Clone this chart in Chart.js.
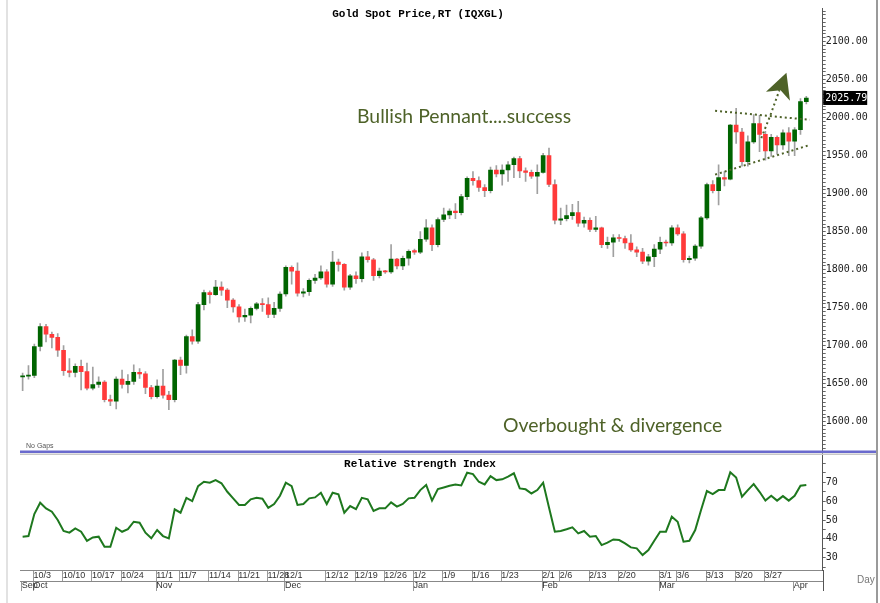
<!DOCTYPE html>
<html><head><meta charset="utf-8">
<script src="https://cdn.jsdelivr.net/npm/chart.js@4.4.0/dist/chart.umd.min.js"></script>
<style>html,body{margin:0;padding:0;background:#fff;}canvas{display:block;}</style>
</head><body>
<canvas id="c" width="880" height="603"></canvas>
<script>
const dates = ['9/29','9/30',
'10/3','10/4','10/5','10/6','10/7','10/10','10/11','10/12','10/13','10/14','10/17','10/18','10/19','10/20','10/21','10/24','10/25','10/26','10/27','10/28','10/31',
'11/1','11/2','11/3','11/4','11/7','11/8','11/9','11/10','11/11','11/14','11/15','11/16','11/17','11/18','11/21','11/22','11/23','11/24','11/25','11/28','11/29','11/30',
'12/1','12/2','12/5','12/6','12/7','12/8','12/9','12/12','12/13','12/14','12/15','12/16','12/19','12/20','12/21','12/22','12/23','12/26','12/27','12/28','12/29','12/30',
'1/2','1/3','1/4','1/5','1/6','1/9','1/10','1/11','1/12','1/13','1/16','1/17','1/18','1/19','1/20','1/23','1/24','1/25','1/26','1/27','1/30','1/31',
'2/1','2/2','2/3','2/6','2/7','2/8','2/9','2/10','2/13','2/14','2/15','2/16','2/17','2/20','2/21','2/22','2/23','2/24','2/27','2/28',
'3/1','3/2','3/3','3/6','3/7','3/8','3/9','3/10','3/13','3/14','3/15','3/16','3/17','3/20','3/21','3/22','3/23','3/24','3/27','3/28','3/29','3/30','3/31',
'4/3','4/4','4/5'];

const openP = [1659,1660,1661,1699,1725,1715,1711,1694,1667,1665,
1673,1666,1644,1649,1652,1629,1627,1656,1649,1653,
1665,1663,1645,1633,1647,1635,1629,1681,1674,1712,
1706,1754,1770,1767,1777,1773,1760,1751,1738,1740,
1749,1755,1754,1741,1749,1768,1803,1798,1769,1771,
1786,1789,1797,1781,1810,1807,1777,1792,1788,1817,
1813,1792,1798,1797,1814,1805,1815,1825,1823,1840,
1855,1833,1866,1872,1877,1875,1896,1920,1917,1908,
1904,1931,1926,1931,1938,1946,1930,1928,1923,1928,
1950,1912,1865,1867,1871,1875,1861,1865,1853,1855,
1833,1836,1842,1841,1835,1826,1823,1811,1817,1827,
1836,1835,1855,1847,1813,1815,1831,1868,1912,1904,
1921,1919,1990,1981,1942,1968,1992,1978,1956,1974,
1964,1980,1969,1984,2021];

const highP = [1664,1674,1702,1729,1728,1718,1716,1700,1683,1676,
1681,1677,1672,1659,1654,1635,1659,1668,1662,1675,
1670,1666,1648,1655,1669,1640,1682,1685,1714,1721,
1757,1773,1772,1786,1784,1775,1762,1754,1748,1751,
1757,1762,1763,1757,1771,1805,1805,1809,1775,1788,
1794,1805,1800,1824,1814,1808,1794,1797,1822,1824,
1815,1802,1799,1833,1815,1818,1826,1827,1850,1866,
1859,1868,1881,1880,1887,1899,1922,1929,1922,1912,
1935,1937,1938,1942,1948,1949,1934,1931,1938,1953,
1960,1918,1881,1885,1886,1890,1869,1868,1870,1856,
1843,1846,1846,1844,1846,1830,1828,1820,1833,1843,
1839,1858,1859,1850,1818,1833,1870,1914,1917,1938,
1929,1991,2012,1986,1976,2004,2003,1982,1978,1976,
1984,1987,1987,2025,2028];

const lowP = [1641,1656,1658,1693,1705,1697,1686,1661,1659,1659,
1642,1642,1642,1645,1626,1621,1617,1644,1638,1649,
1657,1637,1630,1631,1631,1616,1626,1662,1664,1702,
1703,1747,1756,1766,1766,1750,1744,1731,1732,1730,
1747,1745,1737,1737,1745,1765,1781,1765,1764,1766,
1782,1787,1777,1778,1798,1773,1774,1782,1784,1810,
1786,1789,1795,1795,1801,1800,1806,1820,1821,1837,
1825,1830,1863,1867,1867,1872,1892,1911,1903,1896,
1901,1922,1911,1916,1921,1921,1916,1920,1900,1927,
1909,1860,1859,1864,1866,1857,1856,1850,1850,1829,
1828,1817,1837,1828,1824,1817,1808,1806,1804,1821,
1831,1832,1845,1810,1809,1812,1828,1866,1901,1885,
1910,1918,1966,1936,1936,1966,1955,1944,1949,1952,
1958,1950,1950,1978,2018];

const closeP = [1660,1661,1699,1725,1715,1711,1694,1667,1665,1673,
1666,1644,1649,1652,1629,1627,1656,1649,1653,1665,
1663,1645,1633,1647,1635,1629,1681,1674,1712,1706,
1754,1770,1767,1777,1773,1760,1751,1738,1740,1749,
1755,1754,1741,1749,1768,1803,1798,1769,1771,1786,
1789,1797,1781,1810,1807,1777,1792,1788,1817,1813,
1792,1798,1797,1814,1805,1815,1824,1823,1840,1855,
1833,1866,1872,1877,1875,1896,1920,1917,1908,1904,
1931,1926,1931,1938,1946,1930,1928,1923,1928,1950,
1912,1865,1867,1871,1875,1861,1865,1853,1855,1833,
1836,1842,1841,1835,1826,1823,1811,1817,1827,1836,
1835,1855,1847,1813,1815,1831,1868,1912,1904,1921,
1919,1990,1981,1942,1968,1992,1978,1956,1974,1964,
1980,1969,1984,2021,2025.79];

const rsiValues = [41.2,41.5,53.2,59.2,56.2,54.4,50.0,44.2,43.3,45.6,
43.8,39.0,40.8,41.2,35.8,35.8,45.9,43.8,45.2,49.1,
48.6,43.3,40.3,44.7,41.5,40.3,55.7,53.9,61.8,60.1,
68.0,70.3,69.8,71.2,69.5,65.0,61.5,58.0,58.0,61.0,
61.8,61.3,56.5,58.5,62.9,69.8,68.0,58.0,58.5,61.5,
62.0,64.5,58.5,64.5,63.6,53.9,57.4,55.8,61.8,61.0,
54.8,56.2,56.2,59.4,57.1,58.5,61.5,61.8,65.9,68.6,
60.3,66.4,67.3,68.2,68.9,68.4,75.1,74.4,70.3,68.9,
73.3,71.2,71.6,73.0,74.8,66.8,66.3,64.1,65.9,69.8,
56.7,43.8,44.2,45.1,46.1,42.9,44.2,41.2,41.5,36.7,
38.0,39.7,39.4,37.6,35.5,35.0,31.4,34.1,39.0,43.8,
43.8,51.8,49.1,38.5,39.0,44.7,55.3,65.4,63.8,65.9,
65.9,75.3,72.6,62.4,65.9,69.1,65.0,60.3,62.9,60.3,
62.7,60.3,62.9,68.2,68.6];

const dayTickLabels = ['10/3','10/10','10/17','10/24','11/1','11/7','11/14','11/21','11/28','12/1','12/12','12/19','12/26','1/2','1/9','1/16','1/23','2/1','2/6','2/13','2/20','3/1','3/6','3/13','3/20','3/27'];
const monthTickLabels = ['Sep','Oct','Nov','Dec','Jan','Feb','Mar','Apr'];
const monthStartDates = ['9/29','10/3','11/1','12/1','1/2','2/1','3/1','4/3'];
const priceTickLabels = [1600,1650,1700,1750,1800,1850,1900,1950,2000,2050,2100];
const rsiTickLabels = [30,40,50,60,70];

const pennantUpper = [{x:118.4,y:2009},{x:134.6,y:1997}];
const pennantLower = [{x:118.4,y:1925},{x:134.6,y:1964}];
const breakoutPath = [{x:126.3,y:1973},{x:127.8,y:2002},{x:129.4,y:2036}];
const arrowHead = [{x:127.1,y:2034},{x:130.6,y:2059},{x:131.2,y:2022},{x:129.6,y:2036}];
const lastPrice = 2025.79;

const idx = dates.map((d,i)=>i);
const dayTickIdx = dayTickLabels.map(l=>dates.indexOf(l));
const monthTickIdx = monthStartDates.map(l=>dates.indexOf(l));
const GREEN = '#006400', RED = '#ff3a3a', OLIVE = '#4e6228';
const bodyColors = idx.map(i => closeP[i] >= openP[i] ? GREEN : RED);

const deco = {
  id: 'deco',
  beforeDraw(chart) {
    const c = chart.ctx; c.save(); c.fillStyle = '#fff'; c.fillRect(0,0,chart.width,chart.height); c.restore();
  },
  afterDraw(chart) {
    const c = chart.ctx, xs = chart.scales.x, ys = chart.scales.y, ca = chart.chartArea;
    c.save();
    c.fillStyle = '#e2e2e2'; c.fillRect(6,0,2,chart.height);
    c.fillStyle = '#9a9a9a'; c.fillRect(876,0,2,chart.height);
    const sepY = ys.bottom;
    c.fillStyle = '#c8c8c8'; c.fillRect(20, sepY+1.5, 856, 1.5);
    c.fillStyle = '#6a6acd'; c.fillRect(20, sepY-1.5, 856, 2.5);
    c.strokeStyle = '#555'; c.lineWidth = 1;
    c.beginPath(); c.moveTo(Math.round(ca.right)+0.5, ca.bottom); c.lineTo(Math.round(ca.right)+0.5, 591); c.stroke();
    c.fillStyle = '#000'; c.font = 'bold 11px "Liberation Mono"'; c.textAlign = 'center'; c.textBaseline = 'middle';
    c.fillText('Gold Spot Price,RT (IQXGL)', 418, 14);
    c.fillText('Relative Strength Index', 420, 464);
    c.font = '7px "Liberation Sans"'; c.fillStyle = '#555'; c.textAlign = 'left';
    c.fillText('No Gaps', 26, 446);
    c.font = '19.4px Lato'; c.fillStyle = OLIVE;
    c.fillText('Bullish Pennant....success', 357, 117);
    c.fillText('Overbought & divergence', 503, 426);
    c.beginPath();
    arrowHead.forEach((p,k)=>{ const px = xs.getPixelForValue(p.x), py = ys.getPixelForValue(p.y); if(k) c.lineTo(px,py); else c.moveTo(px,py); });
    c.closePath(); c.fill();
    const ly = ys.getPixelForValue(lastPrice);
    c.fillStyle = '#000'; c.fillRect(ca.right+0.5, ly-7, 44, 14);
    c.fillStyle = '#fff'; c.font = '10px "DejaVu Sans Mono"'; c.textAlign = 'left';
    c.fillText(lastPrice.toFixed(2), ca.right+2.5, ly+0.5);
    c.fillStyle = '#777'; c.font = '10px "Liberation Sans"';
    c.fillText('Day', 857, 580);
    c.restore();
  }
};

const xFont = {family: "'Liberation Sans Narrow','Liberation Sans',Arial", size: 9};
const monoFont = {family: "'DejaVu Sans Mono', monospace", size: 10};

new Chart(document.getElementById('c'), {
  data: {
    datasets: [
      {type:'bar', label:'range', data: idx.map(i=>({x:i, y:[lowP[i], highP[i]]})), backgroundColor:'#a0a0a0', barThickness:1, grouped:false, order:5, xAxisID:'x', yAxisID:'y'},
      {type:'bar', label:'body', data: idx.map(i=>({x:i, y:[openP[i], closeP[i]]})), backgroundColor: bodyColors, barThickness:4, grouped:false, minBarLength:1, order:4, xAxisID:'x', yAxisID:'y'},
      {type:'line', label:'RSI', data: idx.map(i=>({x:i, y:rsiValues[i]})), borderColor:'#1e781e', borderWidth:2, pointRadius:0, tension:0, order:1, xAxisID:'x', yAxisID:'y2'},
      {type:'line', label:'upper', data: pennantUpper, borderColor:OLIVE, borderWidth:2, borderDash:[2,3], pointRadius:0, order:2, xAxisID:'x', yAxisID:'y'},
      {type:'line', label:'lower', data: pennantLower, borderColor:OLIVE, borderWidth:2, borderDash:[2,3], pointRadius:0, order:2, xAxisID:'x', yAxisID:'y'},
      {type:'line', label:'breakout', data: breakoutPath, borderColor:OLIVE, borderWidth:2, borderDash:[2,3], pointRadius:0, order:2, xAxisID:'x', yAxisID:'y'}
    ]
  },
  options: {
    responsive:false, animation:false, devicePixelRatio:1,
    layout:{padding:{left:20, top:8, right:0, bottom:0}},
    plugins:{legend:{display:false}, tooltip:{enabled:false}, title:{display:false}},
    scales:{
      x:{type:'linear', position:'bottom', min:-0.45, max:136.8, bounds:'data', offset:false,
        afterBuildTicks: s => { s.ticks = dayTickIdx.map(v=>({value:v-0.15})); },
        ticks:{autoSkip:false, maxRotation:0, minRotation:0, align:'start', padding:-11, font:xFont, color:'#333',
          callback:(v,i)=>dayTickLabels[i]},
        grid:{drawOnChartArea:false, offset:false, tickLength:11, color:'#999', tickColor:'#999'},
        border:{display:true, color:'#888'},
        afterFit: s => { s.height = 11; }
      },
      x2:{type:'linear', position:'bottom', min:-0.45, max:136.8, bounds:'data', offset:false,
        afterBuildTicks: s => { s.ticks = monthTickIdx.map(v=>({value:v-0.15})); },
        ticks:{autoSkip:false, maxRotation:0, minRotation:0, align:'start', padding:-11, font:xFont, color:'#333',
          callback:(v,i)=>monthTickLabels[i]},
        grid:{drawOnChartArea:false, offset:false, tickLength:10, color:'#999', tickColor:'#999'},
        border:{display:true, color:'#888'},
        afterFit: s => { s.height = 22; }
      },
      y:{type:'linear', position:'right', stack:'right', stackWeight:444, min:1560.2, max:2144.1, bounds:'data',
        afterBuildTicks: s => { const t=[]; for(let v=1565; v<=2140; v+=5) t.push({value:v}); s.ticks=t; },
        ticks:{autoSkip:false, padding:0, font:monoFont, color:'#222',
          callback:v => priceTickLabels.includes(v) ? v.toFixed(2) : ''},
        grid:{drawOnChartArea:false, tickLength:3, tickColor:'#666'},
        border:{display:true, color:'#555'},
        afterFit: s => { s.width = 57.3; }
      },
      y2:{type:'linear', position:'right', stack:'right', stackWeight:118, min:23.5, max:86.1, bounds:'data',
        afterBuildTicks: s => { const t=[]; for(let v=25; v<=85; v+=5) t.push({value:v}); s.ticks=t; },
        ticks:{autoSkip:false, padding:0, font:monoFont, color:'#222',
          callback:v => rsiTickLabels.includes(v) ? String(v) : ''},
        grid:{drawOnChartArea:false, tickLength:3, tickColor:'#666'},
        border:{display:true, color:'#555'},
        afterFit: s => { s.width = 57.3; }
      }
    }
  },
  plugins:[deco]
});
</script>
</body></html>
